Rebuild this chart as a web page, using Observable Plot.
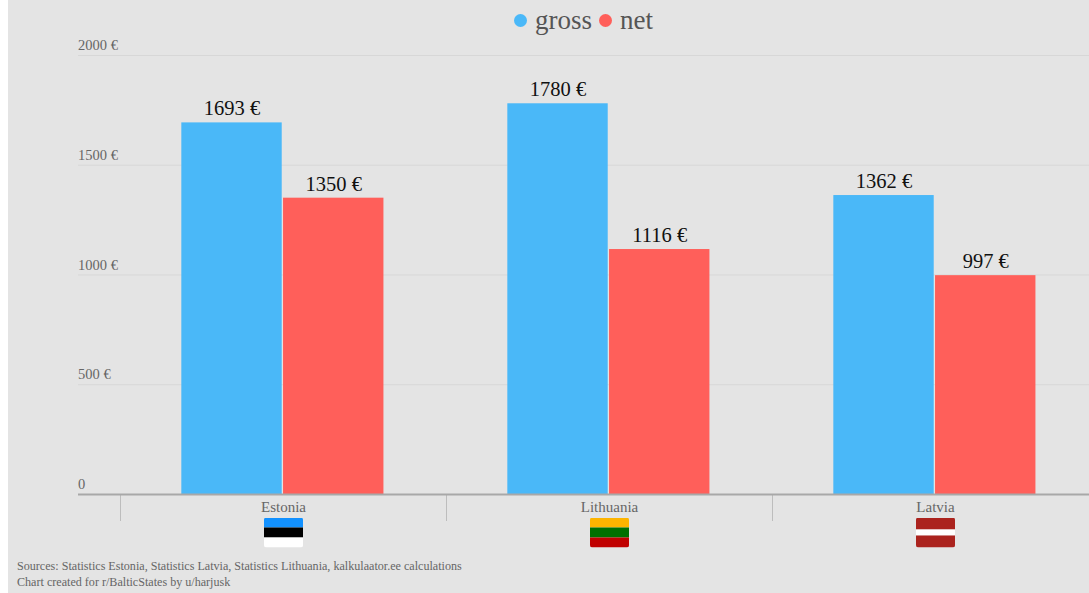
<!DOCTYPE html>
<html><head><meta charset="utf-8">
<script src="https://cdn.jsdelivr.net/npm/d3@7"></script>
<script src="https://cdn.jsdelivr.net/npm/@observablehq/plot@0.6"></script>
<style>
html,body{margin:0;padding:0;background:#fff;}
#page{position:relative;width:1089px;height:593px;overflow:hidden;font-family:"Liberation Serif",serif;}
#bg{position:absolute;left:8px;top:0;right:0;bottom:0;background:#e4e4e4;}
#chart svg{position:absolute;left:0;top:0;}
#legend{position:absolute;top:3px;left:514px;display:flex;align-items:center;font-size:27px;color:#555;line-height:34px;}
#legend i{display:inline-block;width:13px;height:13px;border-radius:50%;margin-right:8px;}
#legend span{margin-right:7px;}
#caption{position:absolute;left:17px;top:558px;font-size:12.1px;line-height:16px;color:#666;white-space:nowrap;}
</style></head>
<body><div id="page"><div id="bg"></div><div id="chart"></div>
<div id="legend"><i style="background:#4ab8f8"></i><span>gross</span><i style="background:#ff5f5a"></i><span>net</span></div>
<div id="caption">Sources: Statistics Estonia, Statistics Latvia, Statistics Lithuania, kalkulaator.ee calculations<br>Chart created for r/BalticStates by u/harjusk</div>
</div>
<script>
const countries = ["Estonia", "Lithuania", "Latvia"];
const gross = [1693, 1780, 1362];
const net = [1350, 1116, 997];
const measures = ["gross", "net"];
const measureColors = ["#4ab8f8", "#ff5f5a"];
const yTicks = [0, 500, 1000, 1500, 2000];
const flagStripes = [
  [["#1291ff", 1], ["#000000", 1], ["#ffffff", 1]],
  [["#fdb400", 1], ["#007000", 1], ["#c00000", 1]],
  [["#ab231e", 2], ["#ffffff", 1], ["#ab231e", 2]]
];

const flagUri = (stripes) => {
  const total = d3.sum(stripes, s => s[1]);
  let y0 = 0;
  const rects = stripes.map(([c, w]) => {
    const h = 30 * w / total;
    const r = `<rect x="0" y="${y0}" width="39" height="${h}" fill="${c}"/>`;
    y0 += h;
    return r;
  }).join("");
  const svg = `<svg xmlns="http://www.w3.org/2000/svg" width="39" height="30" viewBox="0 0 39 30"><clipPath id="c"><rect width="39" height="30" rx="2.5"/></clipPath><g clip-path="url(#c)">${rects}</g></svg>`;
  return "data:image/svg+xml," + encodeURIComponent(svg);
};

const rows = countries.flatMap((c, i) => [
  {country: c, measure: "gross", value: gross[i]},
  {country: c, measure: "net", value: net[i]}
]);
const flags = countries.map((c, i) => ({country: c, src: flagUri(flagStripes[i])}));

const shared = {
  width: 1089,
  height: 593,
  marginTop: 55,
  marginBottom: 99,
  marginRight: 0,
  style: {background: "transparent", fontFamily: "'Liberation Serif', serif", overflow: "visible"},
  y: {domain: [0, 2000], axis: null}
};

const backdrop = Plot.plot({
  ...shared,
  marginLeft: 78,
  marks: [
    Plot.ruleY(yTicks.filter(d => d > 0), {y: d => d, stroke: "#d7d7d7", strokeWidth: 1}),
    Plot.text(yTicks, {y: d => d, text: d => d === 0 ? "0" : `${d} €`, frameAnchor: "left", textAnchor: "start", dy: -10, dx: -0.5, fontSize: 14.5, fill: "#666"})
  ]
});

const baseline = Plot.plot({
  ...shared,
  marginLeft: 78,
  marks: [Plot.ruleY([0], {stroke: "#a8a8a8", strokeWidth: 2})]
});

const chart = Plot.plot({
  ...shared,
  marginLeft: 120,
  fx: {domain: countries, range: [120, 1098], padding: 0, round: false, axis: null},
  x: {domain: measures, paddingInner: 0.013, paddingOuter: 0.609, align: 0.495, round: false, axis: null},
  color: {domain: measures, range: measureColors},
  marks: [
    Plot.barY(rows, {fx: "country", x: "measure", y: "value", fill: "measure"}),
    Plot.text(rows, {fx: "country", x: "measure", y: "value", text: d => `${d.value} €`, dy: -14, fontSize: 20.5, fill: "#111"}),
    Plot.axisFx({anchor: "bottom", tickSize: 27, dx: -163, text: null, stroke: "#bdbdbd", label: null}),
    Plot.axisFx({anchor: "bottom", tickSize: 0, tickPadding: 7, fontSize: 15, fill: "#666", label: null}),
    Plot.image(flags, {fx: "country", src: "src", frameAnchor: "bottom", width: 39, height: 30, dy: 38})
  ]
});
document.getElementById("chart").append(backdrop, chart, baseline);
</script></body></html>
